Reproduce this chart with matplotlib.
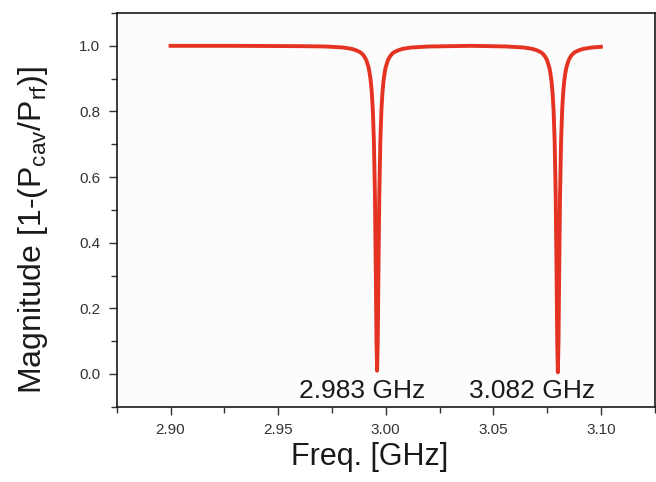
import matplotlib
matplotlib.use("Agg")
import matplotlib.pyplot as plt
from matplotlib.ticker import MultipleLocator

plt.rcParams["font.family"] = ["Liberation Sans", "DejaVu Sans"]
plt.rcParams["mathtext.default"] = "regular"

# values (two resonance dips)
freq = [2.900, 2.930, 2.960, 2.972, 2.980, 2.984, 2.986, 2.988, 2.989, 2.990,
        2.991, 2.992, 2.9925, 2.993, 2.9935, 2.994, 2.9945, 2.995, 2.9954,
        2.9957, 2.9960, 2.9963, 2.9966, 2.997, 2.9975, 2.998, 2.9985, 2.999,
        2.9995, 3.000, 3.001, 3.002, 3.003, 3.004, 3.006, 3.008, 3.012, 3.020,
        3.040, 3.056, 3.064, 3.068, 3.070, 3.072, 3.073, 3.074, 3.075, 3.076,
        3.0765, 3.077, 3.0775, 3.078, 3.0785, 3.079, 3.0794, 3.0797, 3.0800,
        3.0803, 3.0806, 3.081, 3.0815, 3.082, 3.0825, 3.083, 3.0835, 3.084,
        3.085, 3.086, 3.087, 3.088, 3.090, 3.092, 3.096, 3.100]
magnitude = [1.000, 1.000, 0.999, 0.998, 0.995, 0.991, 0.987, 0.981, 0.976, 0.968,
             0.956, 0.935, 0.918, 0.895, 0.860, 0.805, 0.710, 0.540, 0.300,
             0.100, 0.010, 0.100, 0.300, 0.540, 0.710, 0.805, 0.860, 0.895,
             0.918, 0.935, 0.956, 0.968, 0.976, 0.981, 0.987, 0.991, 0.995, 0.998,
             1.000, 0.998, 0.995, 0.991, 0.987, 0.981, 0.976, 0.968, 0.956, 0.935,
             0.918, 0.895, 0.860, 0.805, 0.710, 0.540, 0.300, 0.100, 0.005,
             0.100, 0.300, 0.540, 0.710, 0.805, 0.860, 0.895, 0.918, 0.935,
             0.956, 0.968, 0.976, 0.981, 0.987, 0.991, 0.995, 0.997]

peak_labels = ["2.983 GHz", "3.082 GHz"]
peak_label_x = [2.989, 3.068]

fig = plt.figure(figsize=(6.56, 4.82), dpi=100)
ax = fig.add_axes([0.178, 0.156, 0.820, 0.817])
ax.set_facecolor("#fcfcfc")

ax.plot(freq, magnitude, color="#e53323", linewidth=2.8)

for lab, xp in zip(peak_labels, peak_label_x):
    ax.text(xp, -0.052, lab, ha="center", va="center", fontsize=19, color="#1a1a1a")

ax.set_xlim(2.875, 3.125)
ax.set_ylim(-0.1, 1.1)
ax.xaxis.set_major_locator(MultipleLocator(0.05))
ax.xaxis.set_minor_locator(MultipleLocator(0.025))
ax.yaxis.set_major_locator(MultipleLocator(0.2))
ax.yaxis.set_minor_locator(MultipleLocator(0.1))
ax.xaxis.set_major_formatter(plt.FormatStrFormatter("%.2f"))
ax.yaxis.set_major_formatter(plt.FormatStrFormatter("%.1f"))

ax.tick_params(which="both", direction="out", top=False, right=False,
               colors="#333333", labelsize=11, width=1.0)
ax.tick_params(which="major", length=6)
ax.tick_params(which="minor", length=4)
ax.tick_params(axis="x", pad=6)
ax.tick_params(axis="y", pad=6)
for s in ax.spines.values():
    s.set_linewidth(1.2)
    s.set_color("#1a1a1a")

ax.set_xlabel("Freq. [GHz]", fontsize=22, color="#1a1a1a")
ax.set_ylabel("Magnitude [1-(P$_{cav}$/P$_{rf}$)]", fontsize=23, color="#1a1a1a")
ax.xaxis.set_label_coords(0.47, -0.09)
ax.yaxis.set_label_coords(-0.125, 0.45)

fig.savefig("out.png", dpi=100, facecolor="white")
